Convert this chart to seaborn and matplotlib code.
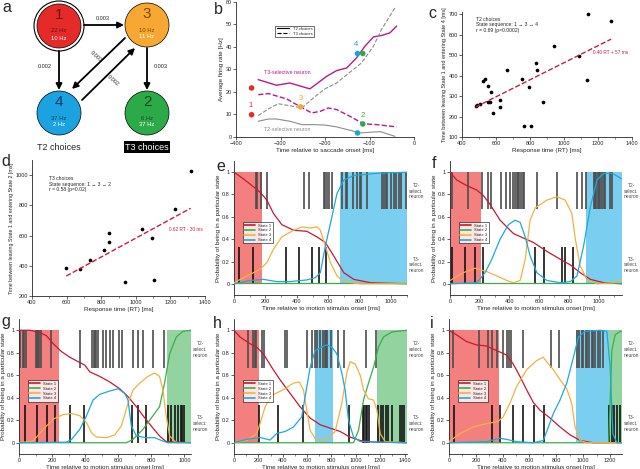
import numpy as np
import pandas as pd
import matplotlib
matplotlib.use("Agg")
import matplotlib.pyplot as plt
import seaborn as sns
from matplotlib.patches import Circle
from matplotlib.ticker import MultipleLocator, FormatStrFormatter

sns.set_style("ticks")
plt.rcParams['font.family'] = ['Liberation Sans', 'DejaVu Sans']
plt.rcParams['axes.linewidth'] = 0.6

# ---------------- data ----------------
# panel b: average firing rates
b_mag_t2_x = [-350, -309, -279, -234, -196, -174, -151, -129, -110, -91, -73, -54, -39]
b_mag_t2_y = [25.5, 23, 24, 21.4, 27, 29.5, 30.7, 35.2, 40.4, 44.5, 45.1, 46.3, 49.3]
b_mag_t3_x = [-350, -327, -286, -255, -230, -211, -193, -174, -144, -114, -84, -39]
b_mag_t3_y = [18.8, 19.3, 16.9, 13.4, 10.7, 11.4, 12.9, 12.2, 9.2, 5.9, 5.5, 4.5]
b_gry_t3_x = [-350, -327, -305, -279, -252, -226, -200, -174, -144, -118, -91, -73, -43]
b_gry_t3_y = [9.5, 12.5, 14.8, 13.9, 12.9, 17.4, 21.4, 24, 28.8, 32.9, 40.4, 47.8, 57.4]
b_gry_t2_x = [-350, -327, -309, -279, -252, -226, -200, -174, -144, -121, -99, -76, -54, -43]
b_gry_t2_y = [7, 8, 8, 7, 5.5, 5.5, 5.3, 4.5, 3, 1.8, 2.1, 2.4, 1, 0.3]
b_dot_x = [-365, -365, -255, -127, -127, -115, -115]
b_dot_y = [21.8, 9.9, 13.4, 37.1, 1.8, 37.1, 5.8]
b_dot_state = [1, 1, 3, 4, 4, 2, 2]

# panel c: T2 choices
c_rt = [481, 490, 504, 523, 538, 555, 572, 555, 566, 585, 621, 626, 664, 755,
        794, 764, 806, 834, 840, 877, 940, 1089, 1142, 1136, 1277]
c_dt = [252, 255, 261, 371, 381, 348, 321, 271, 271, 216, 281, 245, 426, 381,
        342, 155, 152, 461, 429, 273, 544, 494, 698, 377, 668]

# panel d: T3 choices
d_rt = [598, 676, 738, 815, 846, 846, 936, 1034, 1091, 1107, 1224, 1317]
d_dt = [388, 381, 436, 503, 618, 558, 295, 644, 587, 304, 775, 1024]

# panels e-i: state probabilities (time ms, probability)
E1 = [(0, 1.0), (60, 0.94), (123, 0.87), (166, 0.82), (209, 0.75), (251, 0.63), (304, 0.53), (379, 0.48),
      (464, 0.47), (528, 0.42), (581, 0.37), (634, 0.25), (698, 0.10), (762, 0.04), (868, 0.01), (1100, 0.0)]
E2 = [(0, 0.004), (1100, 0.004)]
E3 = [(0, 0.01), (81, 0.07), (166, 0.13), (209, 0.19), (251, 0.31), (304, 0.42), (379, 0.48), (432, 0.51),
      (485, 0.50), (528, 0.51), (549, 0.48), (581, 0.34), (613, 0.19), (655, 0.07), (698, 0.02), (804, 0.0), (1100, 0.0)]
E4 = [(0, 0.0), (102, 0.03), (187, 0.04), (272, 0.02), (357, 0.02), (464, 0.035), (517, 0.055), (549, 0.10),
      (581, 0.34), (613, 0.54), (655, 0.81), (698, 0.93), (762, 0.97), (911, 0.99), (1100, 1.0)]

F1 = [(0, 1), (45, 0.93), (112, 0.88), (180, 0.84), (225, 0.79), (270, 0.71), (337, 0.57), (427, 0.45), (494, 0.41),
      (562, 0.37), (652, 0.29), (742, 0.22), (809, 0.17), (876, 0.10), (944, 0.04), (1034, 0.01), (1157, 0)]
F2 = [(0, 0.004), (1157, 0.004)]
F3 = [(0, 0.03), (90, 0.10), (169, 0.14), (247, 0.11), (315, 0.07), (382, 0.03), (427, 0.01), (472, 0.03),
      (506, 0.22), (539, 0.57), (573, 0.68), (652, 0.75), (719, 0.78), (775, 0.75), (820, 0.63), (843, 0.40),
      (876, 0.16), (921, 0.04), (989, 0), (1101, 0.01), (1157, 0.035)]
F4 = [(0, 0), (180, 0.01), (236, 0.10), (281, 0.22), (337, 0.40), (393, 0.53), (438, 0.57), (472, 0.55),
      (506, 0.42), (539, 0.25), (584, 0.10), (652, 0.03), (742, 0.01), (809, 0.02), (854, 0.07), (899, 0.34),
      (944, 0.69), (989, 0.93), (1034, 0.99), (1090, 0.99), (1157, 0.94)]

G1 = [(0, 1), (66, 1.0), (127, 0.98), (167, 0.95), (207, 0.88), (257, 0.81), (308, 0.76), (358, 0.72), (398, 0.69),
      (428, 0.63), (488, 0.59), (549, 0.54), (609, 0.48), (659, 0.41), (710, 0.32), (750, 0.24), (810, 0.13),
      (850, 0.06), (890, 0.01), (1040, 0)]
G2 = [(0, 0), (649, 0), (689, 0.03), (750, 0.12), (810, 0.24), (850, 0.32), (880, 0.53), (911, 0.79),
      (951, 0.94), (991, 0.99), (1040, 1.0)]
G3 = [(0, 0), (86, 0.015), (147, 0.12), (207, 0.21), (267, 0.25), (318, 0.26), (368, 0.24), (408, 0.18),
      (438, 0.09), (468, 0.05), (529, 0.045), (579, 0.07), (619, 0.15), (659, 0.35), (690, 0.47), (730, 0.53),
      (780, 0.59), (820, 0.62), (850, 0.59), (870, 0.47), (890, 0.24), (911, 0.06), (951, 0), (1040, 0)]
G4 = [(0, 0), (287, 0.005), (318, 0.03), (368, 0.12), (408, 0.24), (448, 0.38), (488, 0.43), (549, 0.46),
      (599, 0.48), (639, 0.44), (659, 0.38), (679, 0.15), (710, 0.06), (770, 0.045), (820, 0.045),
      (870, 0.015), (900, 0), (1040, 0)]

H1 = [(0, 1), (49, 0.94), (132, 0.88), (186, 0.85), (241, 0.79), (310, 0.67), (378, 0.56), (460, 0.44),
      (542, 0.32), (625, 0.22), (707, 0.16), (789, 0.13), (871, 0.10), (953, 0.05), (1036, 0.02), (1145, 0.006), (1420, 0)]
H2 = [(0, 0), (981, 0), (1022, 0.11), (1063, 0.38), (1104, 0.53), (1145, 0.67), (1186, 0.85), (1227, 0.94),
      (1296, 0.985), (1420, 1.0)]
H3 = [(0, 0), (104, 0.02), (186, 0.08), (214, 0.17), (255, 0.32), (310, 0.42), (364, 0.45), (419, 0.48),
      (488, 0.53), (537, 0.54), (570, 0.47), (597, 0.29), (625, 0.11), (666, 0.04), (721, 0.02), (775, 0.04),
      (830, 0.10), (885, 0.35), (926, 0.62), (953, 0.72), (995, 0.70), (1036, 0.60), (1063, 0.47), (1104, 0.39),
      (1145, 0.38), (1173, 0.29), (1200, 0.08), (1241, 0.01), (1420, 0)]
H4 = [(0, 0), (104, 0.03), (214, 0.047), (296, 0.024), (351, 0.083), (419, 0.10), (488, 0.14), (556, 0.23),
      (584, 0.41), (625, 0.67), (666, 0.82), (721, 0.85), (762, 0.87), (803, 0.85), (844, 0.79), (885, 0.62),
      (912, 0.47), (940, 0.20), (981, 0.05), (1036, 0.01), (1420, 0)]

I1 = [(0, 1), (55, 0.96), (130, 0.90), (204, 0.87), (279, 0.86), (354, 0.82), (429, 0.78), (479, 0.70),
      (529, 0.59), (579, 0.47), (628, 0.36), (678, 0.29), (753, 0.22), (828, 0.14), (903, 0.07), (978, 0.02),
      (1077, 0), (1290, 0)]
I2 = [(0, 0), (1190, 0), (1202, 0.38), (1214, 0.82), (1239, 0.96), (1277, 0.99), (1290, 0.99)]
I3 = [(0, 0.01), (80, 0.08), (180, 0.14), (279, 0.17), (367, 0.19), (404, 0.23), (454, 0.35), (504, 0.50),
      (579, 0.65), (653, 0.73), (703, 0.76), (741, 0.70), (778, 0.65), (828, 0.56), (878, 0.48), (915, 0.35),
      (940, 0.14), (978, 0.02), (1027, 0), (1290, 0)]
I4 = [(0, 0), (279, 0.01), (379, 0.04), (429, 0.03), (504, 0.01), (628, 0), (703, 0.02), (741, 0.14),
      (778, 0.26), (828, 0.38), (878, 0.53), (928, 0.76), (965, 0.94), (1015, 0.99), (1127, 1.0), (1177, 0.99),
      (1202, 0.67), (1222, 0.08), (1252, 0), (1290, 0)]

# spike times (ms): upper raster = T2-selective neuron, lower = T3-selective neuron
e_up = [138, 149, 170, 209, 447, 479, 570, 577, 591, 602, 623, 687, 709, 719, 757, 779, 798, 809, 843,
        943, 953, 964, 974, 996, 1017, 1028, 1049, 1060, 1091]
e_lo = [32, 119, 332, 411, 498, 540, 587]
f_up = [11, 124, 213, 254, 274, 344, 378, 404, 427, 438, 449, 456, 467, 479, 488, 499, 584, 719, 854, 888,
        915, 966, 978, 984, 993, 1004, 1011, 1022, 1034, 1045, 1074, 1092]
f_lo = [11, 101, 169, 225, 573, 629, 753, 775, 827]
g_up = [6, 22, 30, 42, 103, 111, 117, 123, 131, 191, 368, 442, 452, 458, 468, 480, 505, 525, 549, 569,
        605, 625, 689, 720, 750, 810, 874]
g_lo = [36, 107, 167, 217, 308, 394, 685, 720, 770, 900, 921, 941, 961, 977, 987, 997]
h_up = [118, 153, 173, 181, 233, 247, 419, 433, 597, 638, 666, 679, 707, 734, 748, 756, 767, 795, 852,
        899, 1082, 1167]
h_lo = [208, 364, 570, 940, 1058, 1068, 1082, 1090, 1104, 1186, 1208, 1227, 1249, 1268, 1296, 1364, 1378, 1392]
i_up = [30, 224, 292, 324, 359, 399, 434, 449, 466, 549, 761, 823, 953, 973, 990, 1002, 1020, 1032, 1047,
        1065, 1077, 1090, 1110, 1127, 1147]
i_lo = [37, 317, 384, 474, 549, 633, 708, 1190, 1214, 1234, 1252, 1272]

# colours
RED, GREEN, ORANGE, BLUE = "#C41A32", "#3DAE4B", "#F5B042", "#1CA9DC"
SH_RED, SH_BLUE, SH_GREEN = "#F47F7F", "#7ACFF0", "#92D3A0"
MAG, GRY = "#C0168C", "#8C8C8C"
state_col = {1: "#E52A2A", 2: "#2DAA48", 3: "#F7A833", 4: "#1AA3E0"}

fig = plt.figure(figsize=(6.4, 4.69), dpi=100)


def px_axes(l, t, r, b):
    return fig.add_axes([l / 640, 1 - b / 469, (r - l) / 640, (b - t) / 469])


def style(ax):
    sns.despine(ax=ax)
    ax.tick_params(labelsize=4, length=2, width=0.5, pad=1)
    ax.tick_params(which='minor', length=1.2, width=0.4)


# ---------------- panel a: state diagram ----------------
axa = px_axes(0, 0, 210, 160)
axa.set_xlim(0, 210)
axa.set_ylim(160, 0)
axa.axis('off')
circ = {1: (59, 26), 3: (147, 25), 4: (59, 113), 2: (147, 113)}
hz = {1: ("22 Hz", "10 Hz"), 3: ("10 Hz", "11 Hz"), 4: ("37 Hz", "2 Hz"), 2: ("6 Hz", "37 Hz")}
dark = {1: "#6E1010", 3: "#7A4A00", 4: "#0B3C66", 2: "#0D4D1D"}
axa.add_patch(Circle(circ[1], 25, facecolor='white', edgecolor='k', lw=0.8))
for s, (cx, cy) in circ.items():
    axa.add_patch(Circle((cx, cy), 22, facecolor=state_col[s], edgecolor='k', lw=0.5))
    axa.text(cx, cy - 11, str(s), ha='center', va='center', fontsize=11, color=dark[s])
    axa.text(cx, cy + 5, hz[s][0], ha='center', va='center', fontsize=4.2, color=dark[s])
    axa.text(cx, cy + 12, hz[s][1], ha='center', va='center', fontsize=4.2, color='white')
arr = dict(arrowstyle='-|>', color='k', lw=1.3, mutation_scale=9, shrinkA=0, shrinkB=0)
axa.annotate('', xy=(124, 25), xytext=(84, 25), arrowprops=arr)
axa.annotate('', xy=(59, 90), xytext=(59, 51), arrowprops=arr)
axa.annotate('', xy=(72, 89), xytext=(125, 38), arrowprops=arr)
axa.annotate('', xy=(135, 48), xytext=(82, 100), arrowprops=arr)
axa.annotate('', xy=(147, 90), xytext=(147, 48), arrowprops=arr)
axa.text(103, 19, "0.003", fontsize=4, ha='center', va='center')
axa.text(45, 67, "0.002", fontsize=4, ha='center', va='center')
axa.text(161, 67, "0.003", fontsize=4, ha='center', va='center')
axa.text(96, 57, "0.003", fontsize=4, ha='center', va='center', rotation=-42)
axa.text(113, 81, "0.002", fontsize=4, ha='center', va='center', rotation=-42)
axa.text(59, 147, "T2 choices", fontsize=6.5, ha='center', va='center')
axa.text(147, 147, "T3 choices", fontsize=6.5, ha='center', va='center', color='white',
         bbox=dict(facecolor='k', edgecolor='none', pad=1.2))

# ---------------- panel b ----------------
axb = px_axes(236, 2, 414, 137)
sns.lineplot(x=b_mag_t2_x, y=b_mag_t2_y, ax=axb, color=MAG, lw=1.0)
sns.lineplot(x=b_mag_t3_x, y=b_mag_t3_y, ax=axb, color=MAG, lw=1.0, linestyle='--')
sns.lineplot(x=b_gry_t3_x, y=b_gry_t3_y, ax=axb, color=GRY, lw=0.8, linestyle='--')
sns.lineplot(x=b_gry_t2_x, y=b_gry_t2_y, ax=axb, color=GRY, lw=0.8)
sns.scatterplot(x=b_dot_x, y=b_dot_y, ax=axb, c=[state_col[s] for s in b_dot_state], s=16,
                edgecolor='none', zorder=5)
for lab, x, y in [("1", -368, 13.8), ("3", -255, 17.2), ("4", -130, 41), ("2", -115, 9.4)]:
    axb.text(x, y, lab, fontsize=5.5, ha='center', va='center', color=state_col[int(lab)])
axb.text(-338, 28.6, "T3-selective neuron", fontsize=3.8, color=MAG, va='center')
axb.text(-338, 3.4, "T2-selective neuron", fontsize=3.8, color=GRY, va='center')
axb.plot([], [], color='k', lw=0.8, label='T2 choices')
axb.plot([], [], color='k', lw=0.8, ls='--', label='T3 choices')
lg = axb.legend(loc='upper left', bbox_to_anchor=(0.21, 0.84), fontsize=3, frameon=True, fancybox=False,
                handlelength=3, borderpad=0.3, labelspacing=0.2, edgecolor='k')
lg.get_frame().set_linewidth(0.5)
axb.set_xlim(-400, 0)
axb.set_ylim(0, 60)
axb.xaxis.set_major_locator(MultipleLocator(100))
axb.yaxis.set_major_locator(MultipleLocator(10))
axb.set_xlabel("Time relative to saccade onset [ms]", fontsize=4.5, labelpad=1)
axb.set_ylabel("Average firing rate [Hz]", fontsize=4.5, labelpad=1)
style(axb)

# ---------------- panel c ----------------
axc = px_axes(462, 12, 632, 137)
sns.regplot(x=c_rt, y=c_dt, ax=axc, ci=None, scatter_kws=dict(s=7, color='k', alpha=1, linewidths=0),
            line_kws=dict(color="#C81E3C", ls='--', lw=1.0))
axc.set_xlim(400, 1400)
axc.set_ylim(100, 710)
axc.xaxis.set_major_locator(MultipleLocator(200))
axc.xaxis.set_minor_locator(MultipleLocator(100))
axc.yaxis.set_major_locator(MultipleLocator(100))
axc.text(0.085, 0.96, "T2 choices\nState sequence: 1 \u2192 3 \u2192 4\nr = 0.69 (p=0.0002)",
         transform=axc.transAxes, fontsize=3.6, va='top', linespacing=1.1)
axc.text(0.77, 0.66, "0.40 RT + 57 ms", transform=axc.transAxes, fontsize=3.4, color="#C81E3C")
axc.set_xlabel("Response time (RT) [ms]", fontsize=4.5, labelpad=1)
axc.set_ylabel("Time between leaving State 1 and entering State 4 [ms]", fontsize=4.0, labelpad=1)
style(axc)

# ---------------- panel d ----------------
axd = px_axes(32, 160, 205, 296)
sns.regplot(x=d_rt, y=d_dt, ax=axd, ci=None, scatter_kws=dict(s=7, color='k', alpha=1, linewidths=0),
            line_kws=dict(color="#C81E3C", ls='--', lw=1.0))
axd.set_xlim(400, 1400)
axd.set_ylim(200, 1100)
axd.xaxis.set_major_locator(MultipleLocator(200))
axd.xaxis.set_minor_locator(MultipleLocator(100))
axd.yaxis.set_major_locator(MultipleLocator(200))
axd.text(0.1, 0.88, "T3 choices\nState sequence: 1 \u2192 3 \u2192 2\nr = 0.58 (p=0.02)",
         transform=axd.transAxes, fontsize=3.6, va='top', linespacing=1.1)
axd.text(0.79, 0.48, "0.62 RT - 30 ms", transform=axd.transAxes, fontsize=3.4, color="#C81E3C")
axd.set_xlabel("Response time (RT) [ms]", fontsize=4.5, labelpad=1)
axd.set_ylabel("Time between leaving State 1 and entering State 2 [ms]", fontsize=3.8, labelpad=1)
style(axd)


# ---------------- panels e-i ----------------
def prob_panel(ax, curves, shades, up, lo, xmax):
    for a, b, col in shades:
        ax.fill_between([a, b], 0, 1, color=col, lw=0, zorder=1)
    ax.vlines(up, 0.667, 1.0, color='0.3', lw=1.2, zorder=2)
    ax.vlines(lo, 0.0, 0.333, color='0.08', lw=1.2, zorder=2)
    for i, (pts, col) in enumerate(zip(curves, [RED, GREEN, ORANGE, BLUE])):
        df = pd.DataFrame(pts, columns=['t', 'p'])
        sns.lineplot(data=df, x='t', y='p', ax=ax, color=col, lw=0.9, label=f"State {i + 1}", zorder=3)
    lg = ax.legend(loc='upper left', bbox_to_anchor=(0.04, 0.56), fontsize=3, frameon=True, fancybox=False,
                   handlelength=2.5, borderpad=0.35, labelspacing=0.2, edgecolor='k')
    lg.get_frame().set_linewidth(0.5)
    for line in lg.get_lines():
        line.set_linewidth(1.2)
    ax.set_xlim(0, xmax)
    ax.set_ylim(-0.1, 1.1)
    ax.xaxis.set_major_locator(MultipleLocator(200))
    ax.xaxis.set_minor_locator(MultipleLocator(100))
    ax.yaxis.set_major_locator(MultipleLocator(0.2))
    ax.yaxis.set_major_formatter(FormatStrFormatter('%g'))
    ax.set_xlabel("Time relative to motion stimulus onset [ms]", fontsize=4.5, labelpad=1)
    ax.set_ylabel("Probability of being in a particular state", fontsize=4.5, labelpad=1)
    ax.text(1.055, 0.83, "T2-\nselect.\nneuron", transform=ax.get_yaxis_transform(), fontsize=3.5,
            ha='center', va='center', color='0.3')
    ax.text(1.055, 0.17, "T3-\nselect.\nneuron", transform=ax.get_yaxis_transform(), fontsize=3.5,
            ha='center', va='center', color='0.3')
    style(ax)


axe = px_axes(234, 161, 407, 295)
prob_panel(axe, [E1, E2, E3, E4], [(0, 177, SH_RED), (672, 1100, SH_BLUE)], e_up, e_lo, 1100)
axf = px_axes(450, 161, 622, 295)
prob_panel(axf, [F1, F2, F3, F4], [(0, 209, SH_RED), (915, 1157, SH_BLUE)], f_up, f_lo, 1157)
axg = px_axes(19, 319, 191, 454)
prob_panel(axg, [G1, G2, G3, G4], [(0, 243, SH_RED), (896, 1040, SH_GREEN)], g_up, g_lo, 1040)
axh = px_axes(234, 319, 407, 454)
prob_panel(axh, [H1, H2, H3, H4], [(0, 205, SH_RED), (666, 811, SH_BLUE), (1173, 1420, SH_GREEN)],
           h_up, h_lo, 1420)
axi = px_axes(449, 319, 622, 454)
prob_panel(axi, [I1, I2, I3, I4], [(0, 372, SH_RED), (945, 1190, SH_BLUE), (1190, 1290, SH_GREEN)],
           i_up, i_lo, 1290)

# panel letters
for lab, x, y in [("a", 2, 12), ("b", 214, 14), ("c", 428, 18), ("d", 1, 166), ("e", 216, 171),
                  ("f", 432, 168), ("g", 1, 326), ("h", 213, 328), ("i", 430, 328)]:
    fig.text(x / 640, 1 - y / 469, lab, fontsize=11.5, va='baseline')

fig.savefig("out.png", dpi=100)
